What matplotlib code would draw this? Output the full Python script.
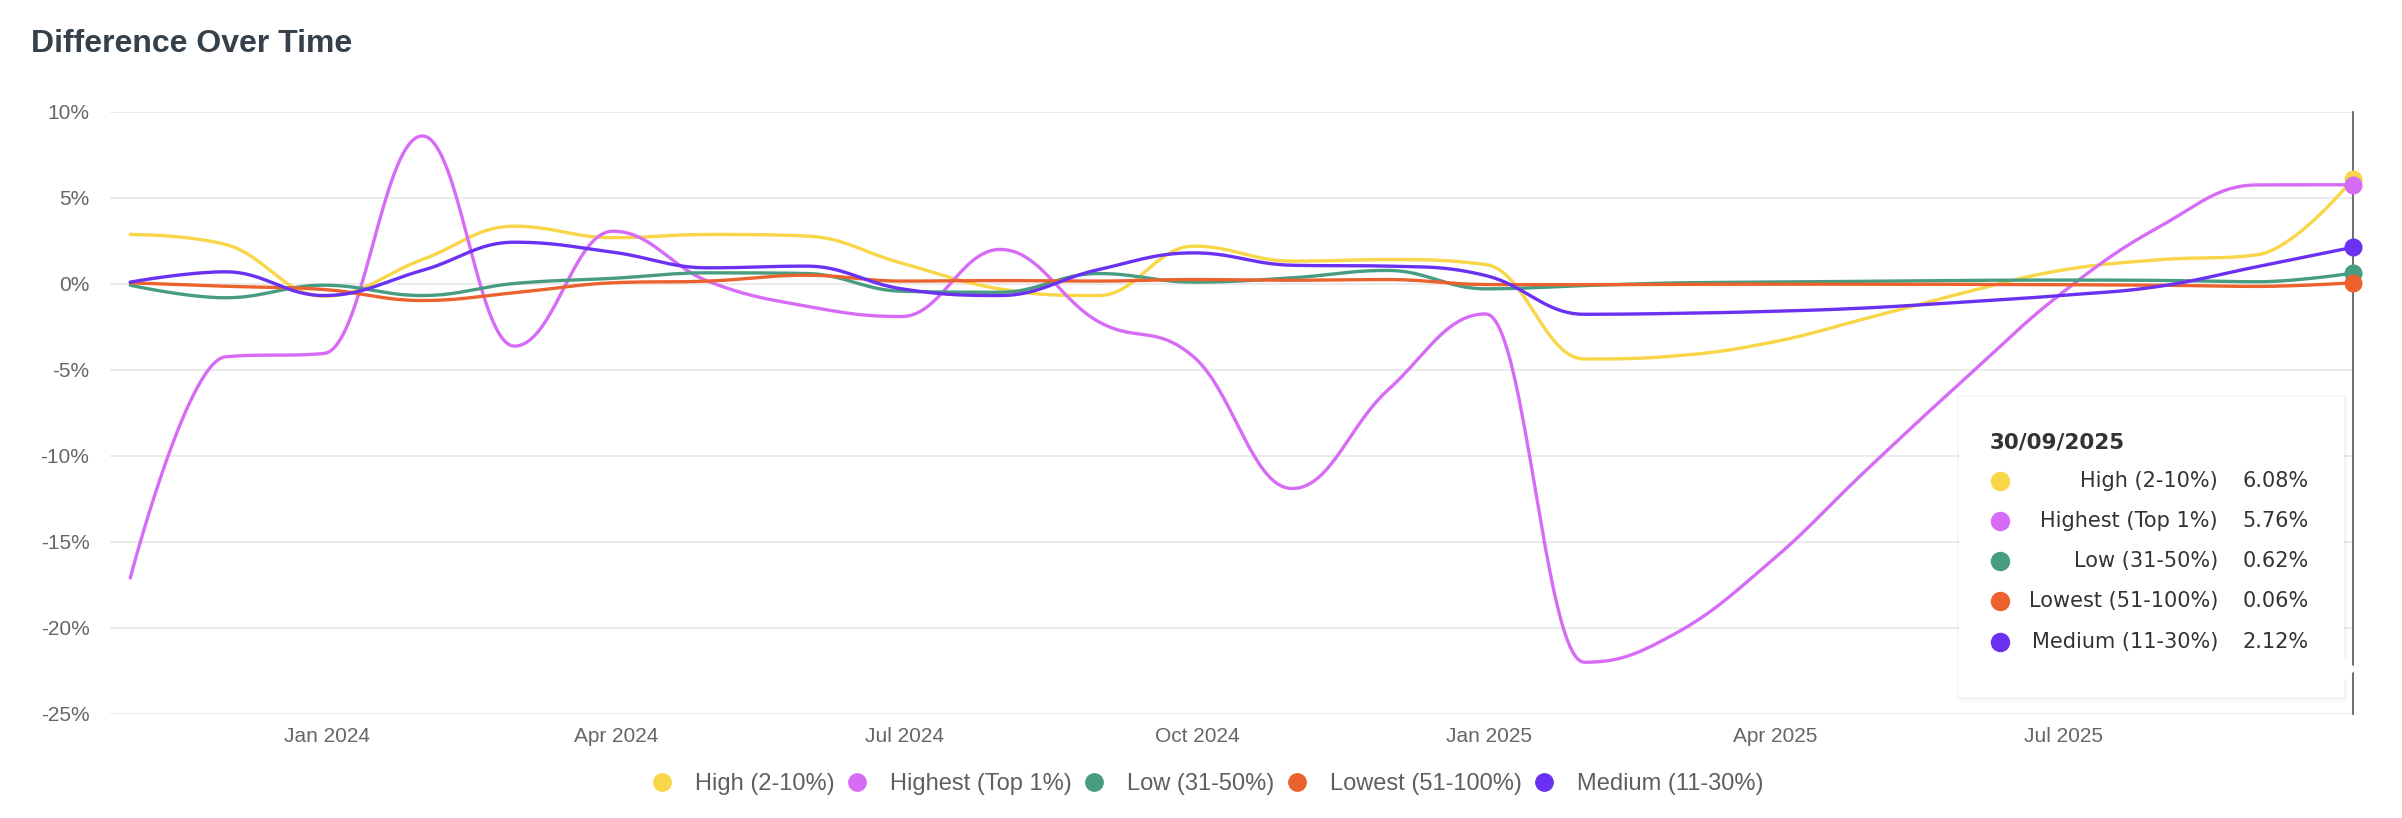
import numpy as np
import pandas as pd
import matplotlib
matplotlib.use("Agg")
import matplotlib.pyplot as plt
import matplotlib.dates as mdates
from matplotlib.lines import Line2D
from matplotlib.patches import Rectangle, Polygon
from matplotlib.ticker import FuncFormatter

plt.rcParams['font.family'] = ['Liberation Sans', 'DejaVu Sans']

# ---------------- data ----------------
dates = ["2023-10-31", "2023-11-30", "2023-12-31", "2024-01-31", "2024-02-29", "2024-03-31",
         "2024-04-30", "2024-05-31", "2024-06-30", "2024-07-31", "2024-08-31", "2024-09-30",
         "2024-10-31", "2024-11-30", "2024-12-31", "2025-01-31", "2025-02-28", "2025-03-31",
         "2025-04-30", "2025-05-31", "2025-06-30", "2025-07-31", "2025-08-31", "2025-09-30"]

high = [2.87, 2.29, -0.72, 1.41, 3.35, 2.68, 2.87, 2.78, 1.20, -0.30, -0.68, 2.19,
        1.32, 1.41, 1.12, -4.37, -4.20, -3.40, -2.00, -0.50, 0.78, 1.40, 1.69, 6.08]
highest = [-17.1, -4.24, -4.05, 8.6, -3.62, 3.06, 0.15, -1.30, -1.90, 2.00, -2.20, -4.25,
           -11.9, -6.2, -1.75, -22.0, -20.4, -16.1, -10.8, -5.5, -0.60, 3.30, 5.75, 5.76]
low = [-0.08, -0.81, -0.08, -0.68, 0.02, 0.32, 0.64, 0.60, -0.43, -0.49, 0.60, 0.10,
       0.35, 0.78, -0.29, -0.10, 0.05, 0.10, 0.15, 0.20, 0.22, 0.20, 0.12, 0.62]
lowest = [0.06, -0.14, -0.33, -0.97, -0.52, 0.06, 0.16, 0.50, 0.16, 0.19, 0.16, 0.25,
          0.21, 0.25, -0.04, -0.05, -0.03, -0.02, -0.02, -0.03, -0.05, -0.08, -0.15, 0.06]
medium = [0.10, 0.70, -0.68, 0.78, 2.42, 1.84, 0.93, 1.03, -0.29, -0.68, 0.83, 1.80,
          1.08, 1.03, 0.48, -1.77, -1.72, -1.60, -1.40, -1.05, -0.68, -0.15, 1.00, 2.12]

series_names = ["High (2-10%)", "Highest (Top 1%)", "Low (31-50%)", "Lowest (51-100%)", "Medium (11-30%)"]
series_values = [high, highest, low, lowest, medium]
colors = ["#f8d648", "#d66cf6", "#479c82", "#eb622f", "#6a31f2"]
tooltip_date = "30/09/2025"
yticks = [-25, -20, -15, -10, -5, 0, 5, 10]


def hc_spline(x, y, n=40):
    """Highcharts-style spline (smoothing 1.5) evaluated as cubic beziers."""
    x = np.asarray(x, float)
    y = np.asarray(y, float)
    N = len(x)
    rc = [None] * N
    xs, ys = [x[0]], [y[0]]
    for i in range(1, N):
        lcx, lcy = x[i], y[i]
        if i < N - 1:
            lx, ly, nx, ny = x[i - 1], y[i - 1], x[i + 1], y[i + 1]
            lcx = (1.5 * x[i] + lx) / 2.5
            lcy = (1.5 * y[i] + ly) / 2.5
            rcx = (1.5 * x[i] + nx) / 2.5
            rcy = (1.5 * y[i] + ny) / 2.5
            corr = (rcy - lcy) * (rcx - x[i]) / (rcx - lcx) + y[i] - rcy
            lcy += corr
            rcy += corr
            if lcy > ly and lcy > y[i]:
                lcy = max(ly, y[i]); rcy = 2 * y[i] - lcy
            elif lcy < ly and lcy < y[i]:
                lcy = min(ly, y[i]); rcy = 2 * y[i] - lcy
            if rcy > ny and rcy > y[i]:
                rcy = max(ny, y[i]); lcy = 2 * y[i] - rcy
            elif rcy < ny and rcy < y[i]:
                rcy = min(ny, y[i]); lcy = 2 * y[i] - rcy
            rc[i] = (rcx, rcy)
        p0 = (x[i - 1], y[i - 1])
        p1 = rc[i - 1] if rc[i - 1] is not None else p0
        p2 = (lcx, lcy)
        p3 = (x[i], y[i])
        t = np.linspace(0, 1, n)[1:]
        a, b, c, d = (1 - t) ** 3, 3 * (1 - t) ** 2 * t, 3 * (1 - t) * t ** 2, t ** 3
        xs.extend(a * p0[0] + b * p1[0] + c * p2[0] + d * p3[0])
        ys.extend(a * p0[1] + b * p1[1] + c * p2[1] + d * p3[1])
    return np.array(xs), np.array(ys)


xd = mdates.date2num(pd.to_datetime(dates))

fig = plt.figure(figsize=(24.02, 8.18), dpi=100)
fig.patch.set_facecolor("white")
ax = fig.add_axes([0.0459, 0.1273, 0.9343, 0.7360])

for name, vals, col in zip(series_names, series_values, colors):
    cx, cy = hc_spline(xd, vals)
    ax.plot(cx, cy, color=col, lw=2.4, solid_capstyle="round", zorder=3)

# crosshair
ax.axvline(xd[-1], color="#555555", lw=1.2, zorder=2.5, clip_on=False)
for vals, col in zip(series_values, colors):
    ax.plot([xd[-1]], [vals[-1]], marker="o", ms=12, color=col, mec=col, zorder=6,
            clip_on=False)

ax.set_xlim(xd[0] - 6.3, xd[-1] + 0.6)
ax.set_ylim(yticks[0], yticks[-1])
ax.set_yticks(yticks)
ax.yaxis.set_major_formatter(FuncFormatter(lambda v, p: f"{v:.0f}%"))
ax.xaxis.set_major_locator(mdates.MonthLocator(bymonth=[1, 4, 7, 10]))
ax.xaxis.set_major_formatter(mdates.DateFormatter("%b %Y"))
ax.grid(axis="y", color="#e6e6e6", lw=1.1, zorder=0)
ax.grid(axis="x", visible=False)
for s in ax.spines.values():
    s.set_visible(False)
ax.tick_params(axis="both", length=0, labelsize=15, labelcolor="#666666")
ax.tick_params(axis="y", pad=15)
ax.tick_params(axis="x", pad=9.5)
ax.set_axisbelow(True)

# title
fig.text(0.0128, 0.9457, "Difference Over Time", fontsize=23, fontweight="bold",
         color="#36404a", va="center", ha="left")

# legend
handles = [Line2D([], [], ls="none", marker="o", ms=12.5, color=c) for c in colors]
fig.legend(handles, series_names, loc="center", bbox_to_anchor=(0.503, 0.0412), ncol=5,
           frameon=False, fontsize=17, handlelength=0.8, handletextpad=1.0,
           columnspacing=0.55, labelcolor="#5f5f5f")

# tooltip
bx0, bx1, by0, by1 = 0.8156, 0.9759, 0.148, 0.5147
px, py = 1 / 2402, 1 / 818
for k in range(1, 5):
    fig.add_artist(Rectangle((bx0 - k * px + 1.0 * px, by0 - k * py - 1.0 * py),
                             (bx1 - bx0) + 2 * k * px - 1.0 * px, (by1 - by0) + 2 * k * py,
                             transform=fig.transFigure, facecolor="#000000", edgecolor="none",
                             alpha=0.012, zorder=9))
fig.add_artist(Rectangle((bx0, by0), bx1 - bx0, by1 - by0, transform=fig.transFigure,
                         facecolor="white", edgecolor="none", zorder=10))
fig.add_artist(Polygon([(bx1 - 0.0005, 0.1974), (0.9811, 0.1822), (bx1 - 0.0005, 0.1669)],
                       closed=True, transform=fig.transFigure, facecolor="white",
                       edgecolor="none", zorder=10))
fig.text(0.8285, 0.4588, tooltip_date, fontsize=15.5, fontweight="bold", color="#333333",
         va="center", ha="left", family="DejaVu Sans", zorder=11)
row_y = [0.4118, 0.3635, 0.3142, 0.2654, 0.2155]
for yy, name, vals, col in zip(row_y, series_names, series_values, colors):
    fig.add_artist(Line2D([0.8326], [yy], marker="o", ms=13, color=col, ls="none",
                          transform=fig.transFigure, zorder=11))
    fig.text(0.9234, yy, name, fontsize=15, color="#333333", va="center", ha="right",
             family="DejaVu Sans", zorder=11)
    fig.text(0.9613, yy, f"{vals[-1]:.2f}%", fontsize=15, color="#333333", va="center",
             ha="right", family="DejaVu Sans", zorder=11)

fig.savefig("out.png", dpi=100, facecolor="white")
